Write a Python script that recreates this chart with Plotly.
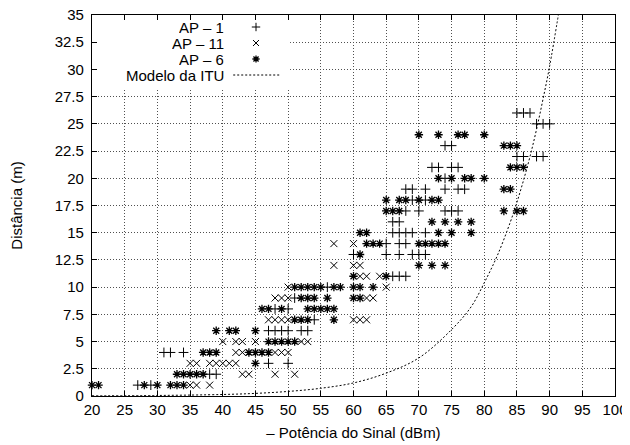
import plotly.graph_objects as go

# ---- data ----
ap1_x = [27, 29, 38, 39, 47, 50, 31, 32, 34, 47, 48, 49, 50, 52, 53, 54, 48, 50, 51, 56,
         66, 67, 68, 60, 65, 67, 69, 70, 71, 65, 67, 68, 66, 67, 68, 69, 71, 66, 67,
         68, 70, 74, 75, 76, 69, 71, 68, 69, 71, 74, 76, 77, 74, 72, 73, 75, 76,
         85, 86, 88, 89, 74, 75, 88, 89, 90, 85, 86, 87]
ap1_y = [1, 1, 2, 2, 3, 3, 4, 4, 4, 6, 6, 6, 6, 6, 6, 7, 8, 8, 9, 10,
         11, 11, 11, 13, 13, 13, 13, 13, 13, 14, 14, 14, 15, 15, 15, 15, 15, 16, 16,
         17, 17, 17, 17, 17, 18, 18, 19, 19, 19, 19, 19, 19, 20, 21, 21, 21, 21,
         22, 22, 22, 22, 23, 23, 25, 25, 25, 26, 26, 26]

ap11_x = [35, 36, 38, 43, 44, 48, 51, 35, 36, 38, 39, 40, 41, 42, 42, 43, 48, 49, 50,
          40, 42, 43, 45, 52, 53, 47, 48, 49, 50, 60, 61, 62, 48, 49, 50, 62, 63,
          50, 65, 61, 62, 64, 57, 60, 61, 57, 60]
ap11_y = [1, 1, 1, 2, 2, 2, 2, 3, 3, 3, 3, 3, 3, 3, 4, 4, 4, 4, 4,
          5, 5, 5, 5, 5, 5, 7, 7, 7, 7, 7, 7, 7, 9, 9, 9, 9, 9,
          10, 10, 11, 11, 11, 12, 12, 12, 14, 14]

ap6_x = [20, 21, 28, 30, 32, 33, 34, 33, 34, 35, 36, 37, 45, 37, 38, 39, 44, 45, 46, 47,
         47, 48, 49, 50, 51, 39, 41, 42, 45, 51, 52, 53, 57, 46, 47, 49, 53, 54, 55, 56, 57,
         52, 53, 54, 56, 60, 61, 51, 52, 53, 54, 55, 57, 58, 60, 61, 63, 60, 65,
         70, 72, 74, 61, 62, 63, 64, 70, 71, 72, 73, 74, 61, 62, 73, 75, 78,
         72, 74, 76, 78, 65, 66, 67, 83, 85, 86, 65, 67, 68, 70, 72, 73, 83, 84,
         73, 75, 77, 78, 80, 84, 85, 86, 83, 84, 85, 70, 73, 76, 77, 80]
ap6_y = [1, 1, 1, 1, 1, 1, 1, 2, 2, 2, 2, 2, 3, 4, 4, 4, 4, 4, 4, 4,
         5, 5, 5, 5, 5, 6, 6, 6, 6, 7, 7, 7, 7, 8, 8, 8, 8, 8, 8, 8, 8,
         9, 9, 9, 9, 9, 9, 10, 10, 10, 10, 10, 10, 10, 10, 10, 10, 11, 11,
         12, 12, 12, 13, 14, 14, 14, 14, 14, 14, 14, 14, 15, 15, 15, 15, 15,
         16, 16, 16, 16, 17, 17, 17, 17, 17, 17, 18, 18, 18, 18, 18, 18, 19, 19,
         20, 20, 20, 20, 20, 21, 21, 21, 23, 23, 23, 24, 24, 24, 24, 24]

# ITU model curve
itu_x = [20, 30, 40, 45, 50, 55, 60, 65, 70, 75, 78, 80, 82, 84, 85, 86, 87, 88, 89, 90, 91.5]
itu_y = [0.02, 0.05, 0.14, 0.24, 0.42, 0.71, 1.2, 2.1, 3.5, 6.1, 8.2, 10.4, 12.9, 16.0,
         17.8, 19.8, 22.0, 24.5, 27.3, 30.3, 35.6]

series_names = ["AP – 1", "AP – 11", "AP – 6", "Modelo da ITU"]
x_ticks = list(range(20, 101, 5))
y_ticks = [i * 2.5 for i in range(15)]

FONT = "Liberation Sans, Arial, sans-serif"
FS = 15

fig = go.Figure()

def mk(sym, size=7, w=1):
    return dict(symbol=sym, size=size, color="black", line=dict(color="black", width=w))

fig.add_trace(go.Scatter(x=ap1_x, y=ap1_y, mode="markers", marker=mk("cross-thin-open"),
                         name=series_names[0], cliponaxis=False, showlegend=False))
fig.add_trace(go.Scatter(x=ap11_x, y=ap11_y, mode="markers", marker=mk("x-thin-open"),
                         name=series_names[1], cliponaxis=False, showlegend=False))
fig.add_trace(go.Scatter(x=ap6_x, y=ap6_y, mode="markers", marker=mk("asterisk-open", 7, 1.3),
                         name=series_names[2], cliponaxis=False, showlegend=False))
fig.add_trace(go.Scatter(x=itu_x, y=itu_y, mode="lines",
                         line=dict(color="black", width=1, dash="2px,2px", shape="spline"),
                         name=series_names[3], showlegend=False))

# ---- legend key (gnuplot style: text right, sample left) on a hidden overlay axis ----
key_rows = [0.9685, 0.9265, 0.8845, 0.8425]
key_sym_x = 0.3136
syms = [("cross-thin-open", 6, 1), ("x-thin-open", 6, 1), ("asterisk-open", 6, 1.3)]
for i, (s, sz, w) in enumerate(syms):
    fig.add_trace(go.Scatter(x=[key_sym_x], y=[key_rows[i]], mode="markers", marker=mk(s, sz, w),
                             xaxis="x2", yaxis="y2", showlegend=False, hoverinfo="skip"))
fig.add_trace(go.Scatter(x=[0.270, 0.3595], y=[key_rows[3], key_rows[3]], mode="lines",
                         line=dict(color="black", width=1, dash="2px,2px"),
                         xaxis="x2", yaxis="y2", showlegend=False, hoverinfo="skip"))
for i, name in enumerate(series_names):
    fig.add_annotation(x=0.2543, y=key_rows[i], xref="x2", yref="y2", text=name, showarrow=False,
                       xanchor="right", yanchor="middle", height=16, borderpad=0,
                       font=dict(family=FONT, size=15, color="black"))

# opaque key area hides grid lines
fig.add_shape(type="rect", xref="x", yref="y", x0=20, x1=50.3, y0=28.2, y1=35,
              fillcolor="white", line=dict(width=0), layer="between")

axis_common = dict(
    showgrid=True, gridcolor="#505050", griddash="1px,2px", gridwidth=1,
    showline=True, linecolor="black", linewidth=1.3, mirror="allticks",
    ticks="inside", ticklen=5, tickcolor="black", tickwidth=1,
    zeroline=False, automargin=False, ticklabeloverflow="allow",
    tickfont=dict(family=FONT, size=FS, color="black"),
)
# page body has an 8px default margin, so the figure is sized to fit inside 630x445
fig.update_layout(
    width=622, height=437,
    margin=dict(l=84, r=15, t=7, b=49),
    paper_bgcolor="white", plot_bgcolor="white",
    font=dict(family=FONT, size=FS, color="black"),
    xaxis=dict(range=[20, 100], tickvals=x_ticks, ticktext=[str(v) for v in x_ticks],
               title=dict(text="– Potência do Sinal (dBm)", font=dict(family=FONT, size=FS), standoff=10),
               **axis_common),
    yaxis=dict(range=[0, 35], tickvals=y_ticks, ticktext=[("%g" % v) for v in y_ticks],
               ticklabelstandoff=4,
               title=dict(text="Distância (m)", font=dict(family=FONT, size=FS), standoff=31),
               **axis_common),
    xaxis2=dict(overlaying="x", range=[0, 1], visible=False, anchor="y2"),
    yaxis2=dict(overlaying="y", range=[0, 1], visible=False, anchor="x2"),
    showlegend=False,
)

fig.write_html("out.html")
